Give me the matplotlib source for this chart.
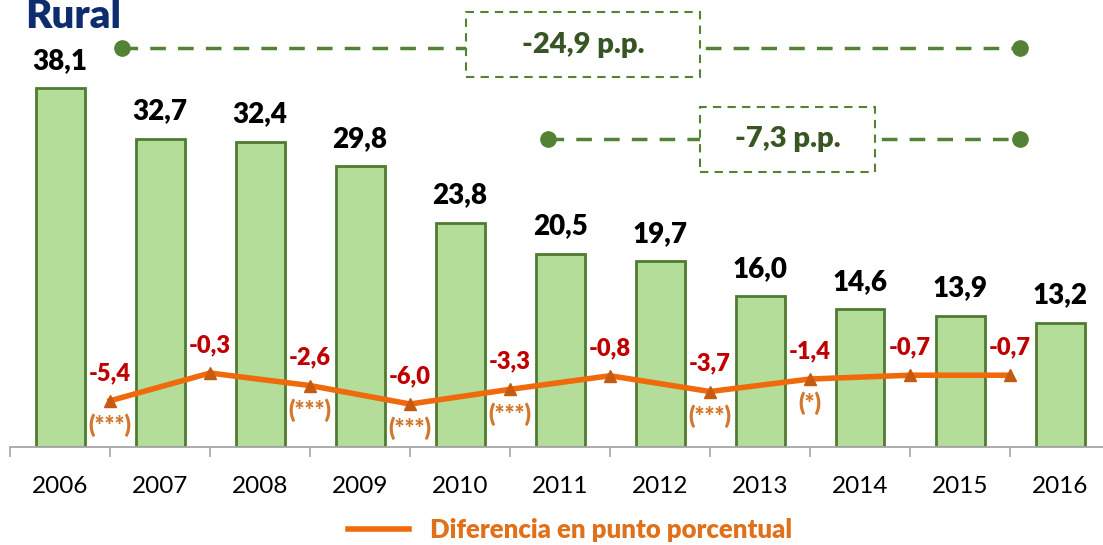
import matplotlib.pyplot as plt
from matplotlib.lines import Line2D
from matplotlib.patches import Rectangle

# datos
years = ['2006', '2007', '2008', '2009', '2010', '2011', '2012', '2013', '2014', '2015', '2016']
rural = [38.1, 32.7, 32.4, 29.8, 23.8, 20.5, 19.7, 16.0, 14.6, 13.9, 13.2]
diff = [-5.4, -0.3, -2.6, -6.0, -3.3, -0.8, -3.7, -1.4, -0.7, -0.7]
signif = ['(***)', '', '(***)', '(***)', '(***)', '', '(***)', '(*)', '', '']
brackets = [('-24,9 p.p.', 122, 1020, 48, 466, 700, 12, 77),
            ('-7,3 p.p.', 548, 1020, 139, 700, 875, 107, 172)]

W, H = 1103, 545
plt.rcParams['font.family'] = ['Lato', 'DejaVu Sans']

fig = plt.figure(figsize=(W / 100, H / 100), dpi=100)
ax = fig.add_axes([10 / W, 98 / H, 1100 / W, 447 / H])
x = list(range(len(years)))

bar_fill = '#b3dd99'
bar_edge = '#4f7b31'
ax.bar(x, rural, width=0.49, color=bar_fill, edgecolor=bar_edge, linewidth=2, zorder=2)
for xi, v in zip(x, rural):
    ax.annotate(f'{v:.1f}'.replace('.', ','), (xi, v), xytext=(0, 14), textcoords='offset points',
                ha='center', va='baseline', fontsize=20, fontweight='heavy', color='black')

ax.set_xlim(-0.5, 10.5)
ax.set_ylim(0, 47.45)
ax.set_xticks(x)
ax.set_xticklabels(years, fontsize=17.5)
ax.tick_params(axis='x', which='major', length=0, pad=21)
ax.set_xticks([i - 0.5 for i in range(len(years))], minor=True)
ax.tick_params(axis='x', which='minor', length=7, width=1.2, color='#a6a6a6')
ax.set_yticks([])
for s in ['top', 'right', 'left']:
    ax.spines[s].set_visible(False)
ax.spines['bottom'].set_color('#a6a6a6')
ax.spines['bottom'].set_linewidth(1.3)

# línea de diferencias
ax2 = ax.twinx()
ax2.set_ylim(-13.9, 68.3)
ax2.axis('off')
xm = [i + 0.5 for i in range(len(diff))]
ax2.plot(xm, diff, color='#f06a0c', linewidth=4, zorder=3)
ax2.plot(xm, diff, linestyle='none', marker='^', markersize=9, color='#c55a11', zorder=4)
for xi, d, s in zip(xm, diff, signif):
    ax2.annotate(f'{d:.1f}'.replace('.', ','), (xi, d), xytext=(0, 15), textcoords='offset points',
                 ha='center', va='baseline', fontsize=17, fontweight='heavy', color='#c00000')
    if s:
        ax2.annotate(s, (xi, d), xytext=(0, -9), textcoords='offset points',
                     ha='center', va='top', fontsize=17, fontweight='heavy', color='#d2772b')

# corchetes de variación
green = '#548235'
for label, x0, x1, yl, bx0, bx1, by0, by1 in brackets:
    fig.add_artist(Line2D([x0 / W, x1 / W], [1 - yl / H, 1 - yl / H], color=green, lw=2.5,
                          linestyle=(0, (4.5, 3.5)), marker='o', markersize=11, markevery=[0, 1]))
    fig.add_artist(Rectangle((bx0 / W, 1 - by1 / H), (bx1 - bx0) / W, (by1 - by0) / H,
                             facecolor='white', edgecolor=green, lw=1.5, linestyle=(0, (4, 3)),
                             zorder=5))
    fig.text((bx0 + bx1) / 2 / W, 1 - (by0 + by1) / 2 / H, label, ha='center', va='center',
             fontsize=21, fontweight='heavy', color='#375623', zorder=6)

fig.text(25 / W, 1 - 28 / H, 'Rural', ha='left', va='baseline', fontsize=29,
         fontweight='heavy', color='#0f2d6e')

handle = Line2D([], [], color='#f06a0c', linewidth=4)
leg = fig.legend([handle], ['Diferencia en punto porcentual'], loc='center',
                 bbox_to_anchor=(570 / W, 1 - 530 / H), frameon=False, handlelength=2.4,
                 prop={'size': 18.5, 'weight': 'heavy'}, labelcolor='#e0701a')

fig.savefig('out.png', dpi=100)
